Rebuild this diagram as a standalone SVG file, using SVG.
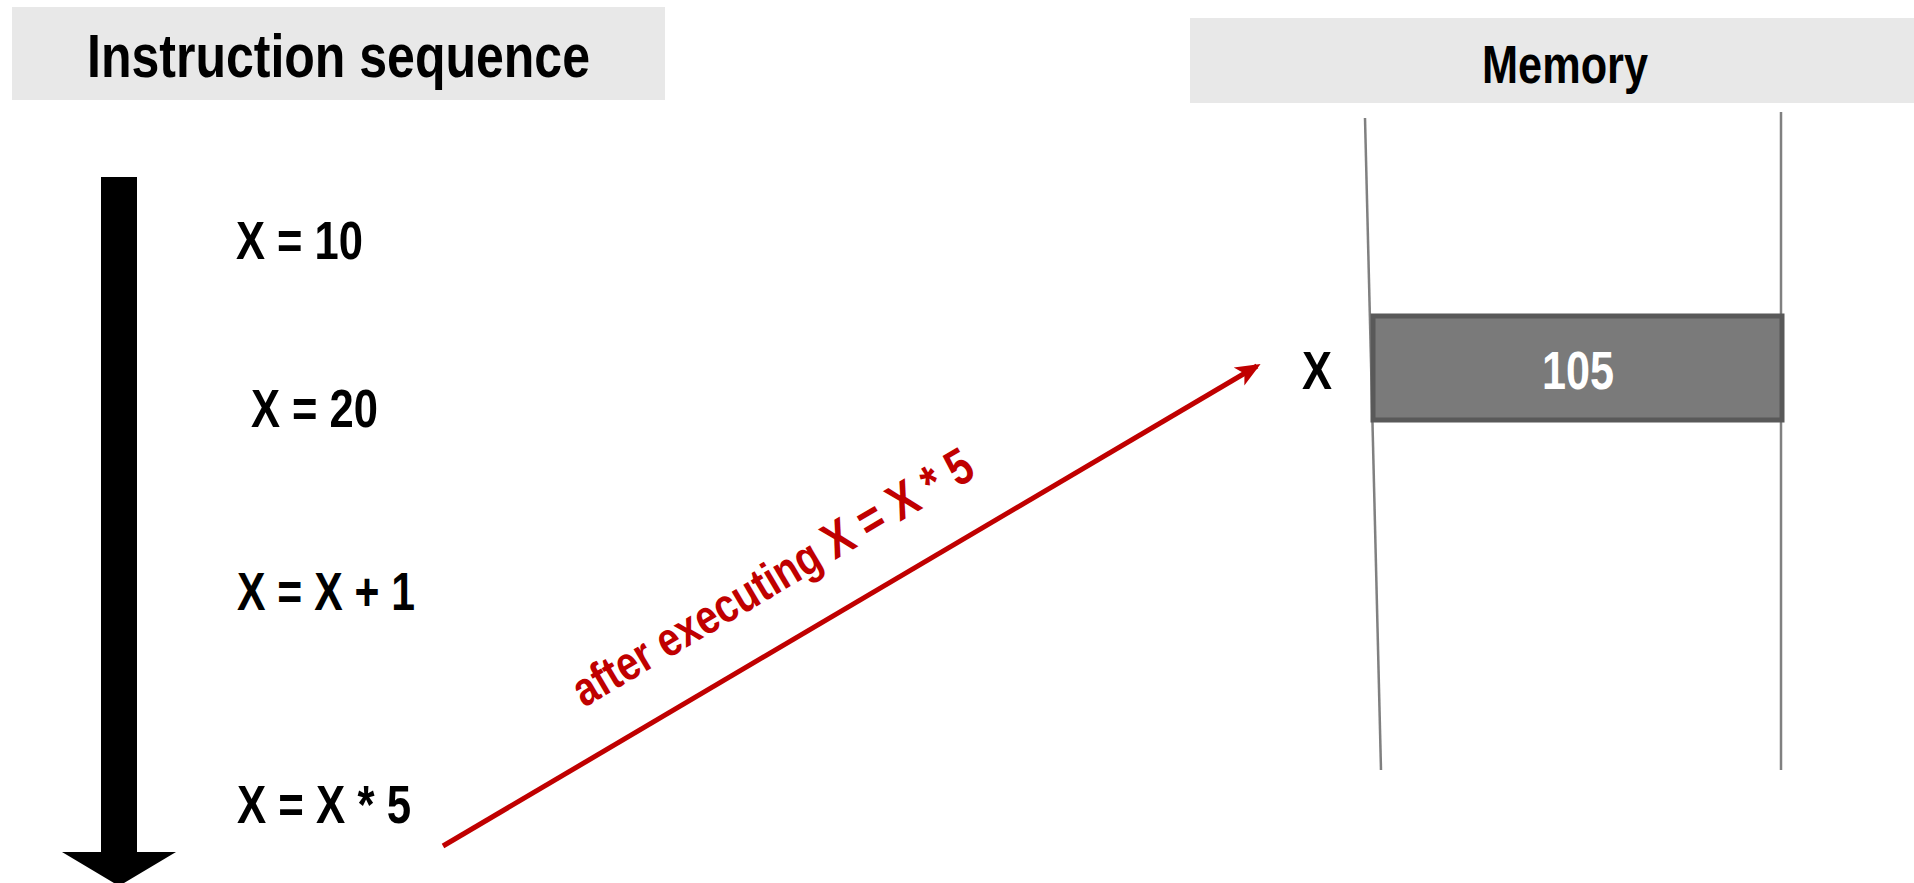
<svg xmlns="http://www.w3.org/2000/svg" width="1914" height="883" viewBox="0 0 1914 883">
<defs>
<style>
.t{font-family:"Liberation Sans Narrow","Liberation Sans",Arial,sans-serif;font-weight:bold;fill:#000}
.hdr{fill:#e8e8e8}
.mem{stroke:#808080;stroke-width:2.5;fill:none}
.red{stroke:#c00000;stroke-width:5;fill:none}
</style>
<marker id="ah" viewBox="0 0 12 10" refX="10" refY="5" markerWidth="5" markerHeight="5" orient="auto" markerUnits="strokeWidth">
<path d="M0,0 L12,5 L0,10 L3,5 z" fill="#c00000"/>
</marker>
</defs>
<rect width="1914" height="883" fill="#fff"/>
<g id="header-instructions">
<rect class="hdr" x="12" y="7" width="653" height="93"/>
<text class="t" x="87" y="77" font-size="61" textLength="503" lengthAdjust="spacingAndGlyphs">Instruction sequence</text>
</g>
<g id="header-memory">
<rect class="hdr" x="1190" y="18" width="724" height="85"/>
<text class="t" x="1482" y="83" font-size="53" textLength="166" lengthAdjust="spacingAndGlyphs">Memory</text>
</g>
<g id="sequence-arrow">
<path d="M101,177 H137 V852 H176 L119,886 L62,852 H101 Z" fill="#000"/>
</g>
<g id="instr-1"><text class="t" x="236" y="259" font-size="53" textLength="127" lengthAdjust="spacingAndGlyphs">X = 10</text></g>
<g id="instr-2"><text class="t" x="251" y="427" font-size="53" textLength="127" lengthAdjust="spacingAndGlyphs">X = 20</text></g>
<g id="instr-3"><text class="t" x="237" y="610" font-size="53" textLength="178" lengthAdjust="spacingAndGlyphs">X = X + 1</text></g>
<g id="instr-4"><text class="t" x="237" y="823" font-size="53" textLength="174" lengthAdjust="spacingAndGlyphs">X = X * 5</text></g>
<g id="memory">
<line class="mem" x1="1365" y1="118" x2="1381" y2="770"/>
<line class="mem" x1="1781" y1="112" x2="1781" y2="770"/>
<rect x="1373" y="316" width="409" height="104" fill="#7a7a7a" stroke="#595959" stroke-width="5"/>
<text class="t" x="1578" y="389" font-size="53" text-anchor="middle" style="fill:#fff" textLength="72" lengthAdjust="spacingAndGlyphs">105</text>
</g>
<g id="var-x"><text class="t" x="1302" y="389" font-size="53" textLength="30" lengthAdjust="spacingAndGlyphs">X</text></g>
<g id="connectors">
<line class="red" x1="443" y1="846" x2="1257" y2="366" marker-end="url(#ah)"/>
<text x="584" y="708" transform="rotate(-30.5 584 708)" font-family="'Liberation Sans Narrow','Liberation Sans',Arial,sans-serif" font-weight="bold" fill="#c00000"><tspan font-size="48" textLength="291" lengthAdjust="spacingAndGlyphs">after executing </tspan><tspan font-size="51" textLength="166" lengthAdjust="spacingAndGlyphs">X = X * 5</tspan></text>
</g>
</svg>
